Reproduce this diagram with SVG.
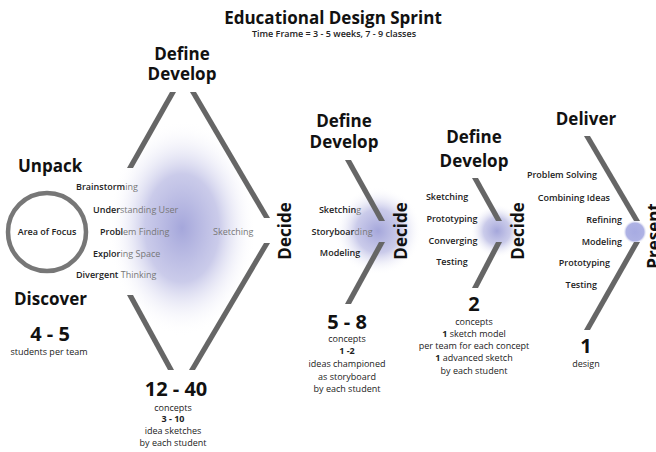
<svg xmlns="http://www.w3.org/2000/svg" width="656" height="452" viewBox="0 0 656 452">
  <style>
    .head { font-family: "Open Sans", "Noto Sans", sans-serif; font-weight: 700; font-size: 17px; fill: #111; }
    .num { font-family: "Open Sans", "Noto Sans", sans-serif; font-weight: 700; font-size: 20px; fill: #111; text-anchor: middle; }
    .lbl { font-family: "Open Sans", "Noto Sans", sans-serif; font-weight: 600; font-size: 9px; fill: #222; }
    .note { font-family: "Open Sans", "Noto Sans", sans-serif; font-weight: 400; font-size: 9px; fill: #222; text-anchor: middle; }
    .b { font-weight: 700; }
    .fade { fill: #777; font-weight: 400; }
    .mid { text-anchor: middle; }
    .end { text-anchor: end; }
    .bar { fill: #666; }
  </style>
  <defs>
    <radialGradient id="glow">
      <stop offset="0" stop-color="#a0a2d9" stop-opacity="0.95"/>
      <stop offset="0.5" stop-color="#b4b5e1" stop-opacity="0.7"/>
      <stop offset="1" stop-color="#ffffff" stop-opacity="0"/>
    </radialGradient>
    <radialGradient id="dot">
      <stop offset="0" stop-color="#a7abe2"/>
      <stop offset="0.75" stop-color="#aeb2e4"/>
      <stop offset="1" stop-color="#ffffff" stop-opacity="0"/>
    </radialGradient>
  </defs>

  <rect width="656" height="452" fill="#ffffff"/>

  <!-- soft highlights behind each converging stage -->
  <g id="glows">
    <ellipse cx="182" cy="228" rx="74" ry="108" fill="url(#glow)"/>
    <ellipse cx="378" cy="231" rx="44" ry="44" fill="url(#glow)"/>
    <ellipse cx="497" cy="231" rx="27" ry="27" fill="url(#glow)"/>
    <circle cx="635" cy="232" r="12" fill="url(#dot)"/>
  </g>

  <!-- title -->
  <g id="title">
    <text x="333" y="24" class="head mid" font-size="19">Educational Design Sprint</text>
    <text x="334" y="37" class="lbl mid" font-size="8.5" font-weight="400">Time Frame = 3 - 5 weeks, 7 - 9 classes</text>
  </g>

  <!-- slanted bars forming the diverge / converge shapes -->
  <g id="connectors">
    <polygon class="bar" points="170,92 176,92 133,168 127,168"/>
    <polygon class="bar" points="190,92 196,92 270,218 264,218"/>
    <polygon class="bar" points="127,295 133,295 174,370 168,370"/>
    <polygon class="bar" points="264,243 270,243 195,370 189,370"/>

    <polygon class="bar" points="345,160 351,160 385,221 379,221"/>
    <polygon class="bar" points="379,242 385,242 351,304 345,304"/>

    <polygon class="bar" points="472,178 478,178 502,221 496,221"/>
    <polygon class="bar" points="496,242 502,242 478,288 472,288"/>

    <polygon class="bar" points="584,136 590,136 640,221 634,221"/>
    <polygon class="bar" points="634,242 640,242 590,330 584,330"/>
  </g>

  <!-- unpack / discover -->
  <g id="unpack">
    <text x="18" y="172" class="head">Unpack</text>
    <circle cx="47" cy="232" r="39" fill="none" stroke="#777" stroke-width="4.5"/>
    <text x="47" y="235" class="lbl mid" font-weight="400" fill="#555" font-size="9.5">Area of Focus</text>
    <text x="14" y="305" class="head">Discover</text>
    <text x="50" y="341" class="num">4 - 5</text>
    <text x="49" y="355" class="note">students per team</text>
  </g>

  <!-- stage 1: diverge -->
  <g id="stage1">
    <text x="182" y="60" class="head mid">Define</text>
    <text x="182" y="80" class="head mid">Develop</text>
    <text x="76" y="190" class="lbl">Brainstorm<tspan class="fade">ing</tspan></text>
    <text x="93" y="213" class="lbl">Under<tspan class="fade">standing User</tspan></text>
    <text x="100" y="235" class="lbl">Probl<tspan class="fade">em Finding</tspan></text>
    <text x="93" y="257" class="lbl">Explor<tspan class="fade">ing Space</tspan></text>
    <text x="76" y="278" class="lbl">Divergent<tspan class="fade"> Thinking</tspan></text>
    <text x="213" y="235" class="lbl fade">Sketching</text>
    <text transform="translate(291 231) rotate(-90)" class="head mid">Decide</text>
    <text x="176" y="396" class="num">12 - 40</text>
    <text x="173" y="411" class="note">concepts</text>
    <text x="173" y="422" class="note b">3 - 10</text>
    <text x="173" y="434" class="note">idea sketches</text>
    <text x="173" y="446" class="note">by each student</text>
  </g>

  <!-- stage 2 -->
  <g id="stage2">
    <text x="344" y="127" class="head mid">Define</text>
    <text x="344" y="148" class="head mid">Develop</text>
    <text x="340" y="213" class="lbl mid">Sketchin<tspan class="fade">g</tspan></text>
    <text x="342" y="235" class="lbl mid">Storyboar<tspan class="fade">ding</tspan></text>
    <text x="340" y="256" class="lbl mid">Modeling</text>
    <text transform="translate(407 231) rotate(-90)" class="head mid">Decide</text>
    <text x="347" y="329" class="num">5 - 8</text>
    <text x="347" y="342" class="note">concepts</text>
    <text x="347" y="354" class="note b">1 -2</text>
    <text x="347" y="367" class="note">ideas championed</text>
    <text x="347" y="380" class="note">as storyboard</text>
    <text x="347" y="392" class="note">by each student</text>
  </g>

  <!-- stage 3 -->
  <g id="stage3">
    <text x="474" y="143" class="head mid">Define</text>
    <text x="474" y="167" class="head mid">Develop</text>
    <text x="447" y="200" class="lbl mid">Sketching</text>
    <text x="452" y="222" class="lbl mid">Prototyping</text>
    <text x="453" y="244" class="lbl mid">Converging</text>
    <text x="452" y="265" class="lbl mid">Testing</text>
    <text transform="translate(524 231) rotate(-90)" class="head mid">Decide</text>
    <text x="474" y="311" class="num">2</text>
    <text x="474" y="325" class="note">concepts</text>
    <text x="474" y="337" class="note"><tspan class="b">1</tspan> sketch model</text>
    <text x="474" y="349" class="note">per team for each concept</text>
    <text x="474" y="361" class="note"><tspan class="b">1</tspan> advanced sketch</text>
    <text x="474" y="374" class="note">by each student</text>
  </g>

  <!-- stage 4: deliver -->
  <g id="stage4">
    <text x="586" y="125" class="head mid">Deliver</text>
    <text x="597" y="178" class="lbl end">Problem Solving</text>
    <text x="610" y="201" class="lbl end">Combining Ideas</text>
    <text x="622" y="223" class="lbl end">Refining</text>
    <text x="622" y="245" class="lbl end">Modeling</text>
    <text x="610" y="266" class="lbl end">Prototyping</text>
    <text x="597" y="288" class="lbl end">Testing</text>
    <text transform="translate(660 236) rotate(-90)" class="head mid">Present</text>
    <text x="586" y="353" class="num">1</text>
    <text x="586" y="367" class="note">design</text>
  </g>
</svg>
